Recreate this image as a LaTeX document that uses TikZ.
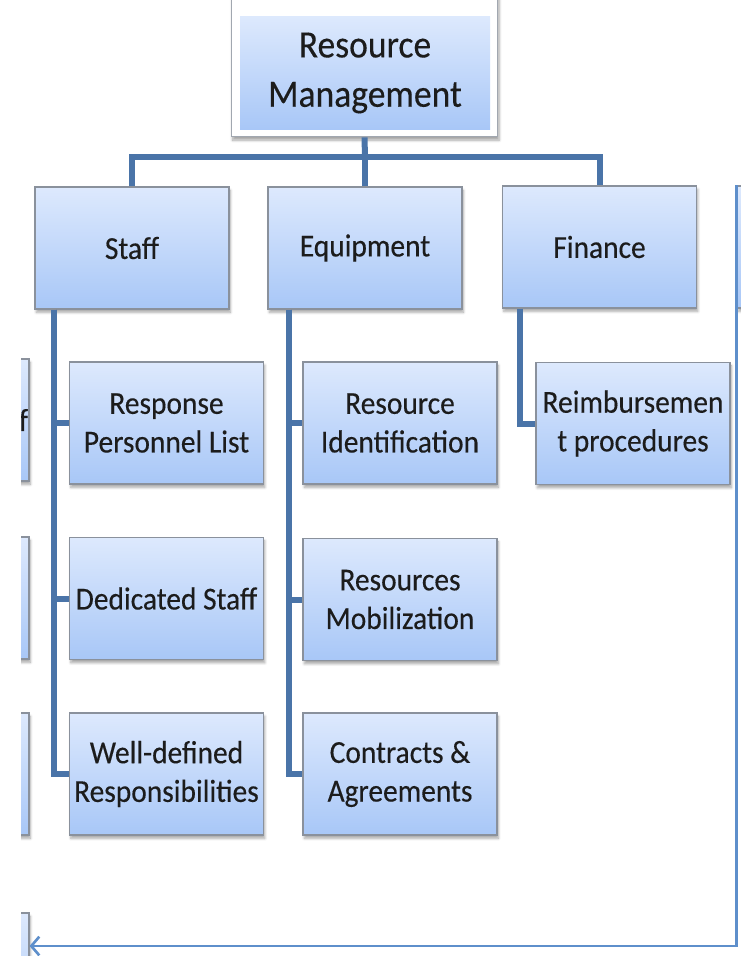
\documentclass[tikz,border=0pt]{standalone}
\usepackage{fontspec}
\setmainfont{Carlito}[FakeStretch=0.92, FakeBold=0.3]
\usetikzlibrary{arrows.meta, shadows.blur, positioning}

\definecolor{boxtop}{HTML}{DDE9FD}
\definecolor{boxbot}{HTML}{A8C7F7}
\definecolor{boxline}{HTML}{8A919C}
\definecolor{connblue}{HTML}{4A74A8}
\definecolor{backblue}{HTML}{5E8FCB}
\definecolor{textdark}{HTML}{1C1C1C}

\begin{document}
\begin{tikzpicture}[x=0.75pt, y=-0.75pt,
  box/.style={draw=boxline, line width=0.8pt, top color=boxtop, bottom color=boxbot,
    minimum width=145.5pt, minimum height=91.5pt, inner sep=2pt, align=center,
    text=textdark, font=\fontsize{24}{29}\selectfont,
    blur shadow={shadow xshift=1pt, shadow yshift=-2.5pt, shadow blur steps=6, shadow opacity=35}},
  frame/.style={draw=boxline!80, line width=0.8pt, fill=white,
    minimum width=200pt, minimum height=110pt,
    blur shadow={shadow xshift=1pt, shadow yshift=-2.5pt, shadow blur steps=6, shadow opacity=35}},
  headbox/.style={top color=boxtop, bottom color=boxbot, minimum width=187.5pt, minimum height=84.75pt,
    align=center, text=textdark, font=\fontsize{29}{37}\selectfont},
  conn/.style={draw=connblue, line width=4.5pt},
  back/.style={draw=backblue, line width=2pt, -{Straight Barb[length=6pt, width=14pt]}}]
\useasboundingbox (0,0) rectangle (741,956);
\begin{scope}
\clip (21,0) rectangle (741,956);

% Top
\node[frame] (topframe) at (364.5,63.5) {};
\node[headbox] (top) at (365,73) {Resource\\Management};

% Boxes cut at the edges
\node[box, inner xsep=0.5pt, text width=144pt, align=right] (lcut1) at (-68,420) {f};
\node[box] (lcut2) at (-68,598) {};
\node[box] (lcut3) at (-68,774) {};
\node[box] (lcut4) at (-68,974) {};
\node[box] (rcut) at (834,247) {};

% Second level
\node[box] (staff) at (132,248) {Staff};
\node[box] (equip) at (365,248) {Equipment};
\node[box] (finance) at (599.5,247) {Finance};

% Third level
\node[box] (resp) at (166.5,423) {Response\\Personnel List};
\node[box] (dedic) at (166.5,598.5) {Dedicated Staff};
\node[box] (wellres) at (166.5,774) {Well-defined\\Responsibilities};
\node[box] (resid) at (400,423) {Resource\\Identification};
\node[box] (resmob) at (400,599.5) {Resources\\Mobilization};
\node[box] (contr) at (400,774) {Contracts \&\\Agreements};
\node[box] (reimb) at (633,423.5) {Reimbursemen\\t procedures};

% Connectors
\coordinate (bar) at (365,157);
\draw[conn] (topframe.south) -- (bar);
\draw[conn] (staff.north) |- (bar) -| (finance.north);
\draw[conn] (equip.north) -- (equip.north |- bar);
\draw[conn] (staff.south west) ++(20,0) |- (resp.west);
\draw[conn] (staff.south west) ++(20,0) |- (dedic.west);
\draw[conn] (staff.south west) ++(20,0) |- (wellres.west);
\draw[conn] (equip.south west) ++(22,0) |- (resid.west);
\draw[conn] (equip.south west) ++(22,0) |- (resmob.west);
\draw[conn] (equip.south west) ++(22,0) |- (contr.west);
\draw[conn] (finance.south west) ++(18,0) |- (reimb.west);

% Back arrow
\coordinate (backend) at (lcut4.north east |- 0,946);
\draw[back] (rcut.north west) |- (backend);
\end{scope}
\end{tikzpicture}
\end{document}
